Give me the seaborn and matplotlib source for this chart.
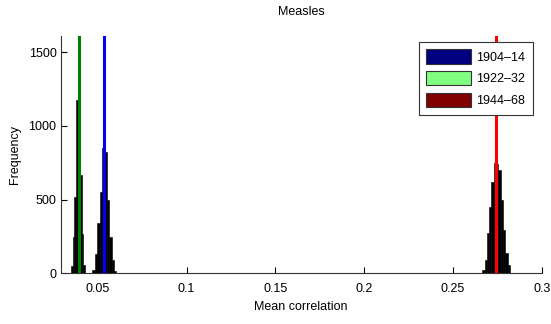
import matplotlib
matplotlib.use('Agg')
import matplotlib.pyplot as plt
from matplotlib.patches import Patch
import numpy as np
import pandas as pd
import seaborn as sns

# histogram bin centres and counts
green_centers = [0.0353, 0.0363, 0.0373, 0.0383, 0.0393, 0.0403, 0.0413, 0.0423]
green_counts = [50, 250, 520, 1176, 950, 667, 270, 60]

blue_centers = [0.0476, 0.0490, 0.0503, 0.0517, 0.0530, 0.0544, 0.0557,
                0.0571, 0.0584, 0.0598]
blue_counts = [25, 135, 340, 554, 849, 825, 497, 248, 90, 15]

red_centers = [0.2672, 0.2685, 0.2698, 0.2711, 0.2724, 0.2737, 0.2750,
               0.2763, 0.2776, 0.2789, 0.2802, 0.2815]
red_counts = [22, 90, 272, 452, 622, 748, 740, 700, 497, 294, 138, 56]

line_positions = [0.0534, 0.0392, 0.2744]
line_colors = ['#0000FF', '#008000', '#FF0000']

legend_labels = ['1904\u201314', '1922\u201332', '1944\u201368']
legend_colors = ['#000080', '#80FF80', '#800000']

xticks = [0.05, 0.1, 0.15, 0.2, 0.25, 0.3]
xtick_labels = ['0.05', '0.1', '0.15', '0.2', '0.25', '0.3']
yticks = [0, 500, 1000, 1500]

sns.set_style('white', {'xtick.bottom': True, 'ytick.left': True})
plt.rcParams['font.family'] = ['Liberation Sans Narrow', 'Liberation Sans', 'DejaVu Sans']
plt.rcParams['font.size'] = 9
plt.rcParams['text.color'] = 'black'
plt.rcParams['axes.labelcolor'] = 'black'
plt.rcParams['xtick.color'] = 'black'
plt.rcParams['ytick.color'] = 'black'

fig = plt.figure(figsize=(5.51, 3.24), dpi=100)
ax = fig.add_axes([0.110, 0.156, 0.873, 0.733])

for centers, counts, width in [(green_centers, green_counts, 0.0010),
                               (blue_centers, blue_counts, 0.00135),
                               (red_centers, red_counts, 0.0013)]:
    df = pd.DataFrame({'x': centers, 'n': counts})
    edges = list(np.append(np.array(centers) - width / 2, centers[-1] + width / 2))
    sns.histplot(data=df, x='x', weights='n', bins=edges, color='black',
                 alpha=1, linewidth=0.4, edgecolor='black', ax=ax)

for pos, col in zip(line_positions, line_colors):
    ax.axvline(pos, color=col, linewidth=2.2, zorder=5)

ax.set_xlim(0.029, 0.3)
ax.set_ylim(0, 1610)
ax.set_xticks(xticks)
ax.set_xticklabels(xtick_labels)
ax.set_yticks(yticks)
ax.tick_params(direction='in', length=4, width=0.8, labelsize=9)
ax.tick_params(axis='x', pad=7)
ax.tick_params(axis='y', pad=3)
for side in ['top', 'right']:
    ax.spines[side].set_visible(False)
for side in ['left', 'bottom']:
    ax.spines[side].set_color('#333333')
    ax.spines[side].set_linewidth(0.8)

ax.set_xlabel('Mean correlation', fontsize=9, labelpad=4)
ax.set_ylabel('Frequency', fontsize=9, labelpad=5)
ax.set_title('Measles', fontsize=9, pad=15)

handles = [Patch(facecolor=c, edgecolor='#333333', linewidth=0.8) for c in legend_colors]
leg = ax.legend(handles, legend_labels, loc='upper right', bbox_to_anchor=(0.982, 0.975),
                borderaxespad=0, fancybox=False, framealpha=1, edgecolor='#333333',
                handlelength=3.6, handleheight=1.36, fontsize=9, labelspacing=0.6,
                borderpad=0.6, handletextpad=0.4)
leg.get_frame().set_linewidth(0.8)
leg.set_zorder(10)

fig.savefig('out.png', dpi=100)
